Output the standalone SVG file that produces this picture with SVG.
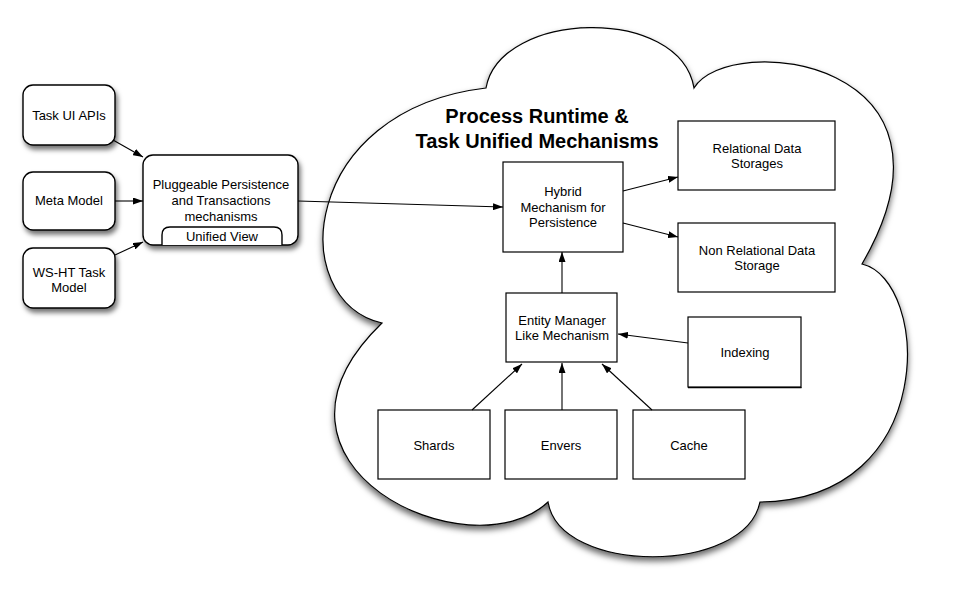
<svg xmlns="http://www.w3.org/2000/svg" width="961" height="597" viewBox="0 0 961 597">
<style>
  text { font-family: "Liberation Sans", Arial, sans-serif; font-size: 13px; fill: #000; text-anchor: middle; }
  .title { font-size: 20px; font-weight: bold; }
  .rbox { fill: #fff; stroke: #000; stroke-width: 1.4; }
  .box { fill: #fff; stroke: #000; stroke-width: 1.2; }
  .conn line, .conn path { stroke: #000; stroke-width: 1.1; fill: none; marker-end: url(#arrow); }
</style>
<defs>
  <marker id="arrow" viewBox="0 0 10 7" refX="10" refY="3.5" markerUnits="userSpaceOnUse" markerWidth="10" markerHeight="7" orient="auto">
    <path d="M0,0 L10,3.5 L0,7 z" fill="#000"/>
  </marker>
  <filter id="shadow" x="-20%" y="-20%" width="140%" height="150%">
    <feDropShadow dx="2" dy="4" stdDeviation="2.5" flood-color="#000" flood-opacity="0.55"/>
  </filter>
  <filter id="cshadow" x="-10%" y="-10%" width="120%" height="125%">
    <feDropShadow dx="0" dy="4" stdDeviation="3" flood-color="#000" flood-opacity="0.6"/>
  </filter>
</defs>
<rect width="961" height="597" fill="#fff"/>

<g id="cloud">
  <path filter="url(#cshadow)" fill="#fff" stroke="#000" stroke-width="1.2"
    d="M382,323 C285,300 300,110 486,88 C500,10 680,5 694,88 C730,30 980,60 862,264 C930,280 940,500 760,502 C745,575 560,575 548,502 C470,575 235,465 382,323 Z"/>
  <text class="title" x="537" y="123">Process Runtime &amp;</text>
  <text class="title" x="537" y="148">Task Unified Mechanisms</text>
</g>

<g id="task-ui-apis">
  <rect class="rbox" filter="url(#shadow)" x="23" y="85" width="92" height="60" rx="10"/>
  <text x="69" y="120">Task UI APIs</text>
</g>
<g id="meta-model">
  <rect class="rbox" filter="url(#shadow)" x="23" y="172" width="92" height="58" rx="10"/>
  <text x="69" y="205">Meta Model</text>
</g>
<g id="ws-ht-task-model">
  <rect class="rbox" filter="url(#shadow)" x="23" y="248" width="92" height="60" rx="10"/>
  <text x="69" y="277">WS-HT Task</text>
  <text x="69" y="292">Model</text>
</g>
<g id="pluggeable">
  <rect class="rbox" filter="url(#shadow)" x="143" y="155" width="155" height="90" rx="10"/>
  <text x="221" y="189">Pluggeable Persistence</text>
  <text x="221" y="205">and Transactions</text>
  <text x="221" y="221">mechanisms</text>
  <path class="rbox" d="M162,245 L162,235 Q162,227 170,227 L274,227 Q282,227 282,235 L282,245"/>
  <text x="222" y="241">Unified View</text>
</g>

<g id="hybrid">
  <rect class="box" x="503" y="162" width="120" height="90"/>
  <text x="563" y="196">Hybrid</text>
  <text x="563" y="212">Mechanism for</text>
  <text x="563" y="227">Persistence</text>
</g>
<g id="relational">
  <rect class="box" x="678" y="121" width="157" height="69"/>
  <text x="757" y="153">Relational Data</text>
  <text x="757" y="168">Storages</text>
</g>
<g id="non-relational">
  <rect class="box" x="678" y="223" width="157" height="69"/>
  <text x="757" y="255">Non Relational Data</text>
  <text x="757" y="270">Storage</text>
</g>
<g id="entity-manager">
  <rect class="box" x="506" y="293" width="111" height="69"/>
  <text x="562" y="325">Entity Manager</text>
  <text x="562" y="340">Like Mechanism</text>
</g>
<g id="indexing">
  <rect class="box" x="688" y="317" width="113" height="70"/>
  <line x1="688" y1="387.6" x2="801.6" y2="387.6" stroke="#000" stroke-width="1.4"/>
  <text x="745" y="357">Indexing</text>
</g>
<g id="shards">
  <rect class="box" x="378" y="410" width="112" height="69"/>
  <text x="434" y="450">Shards</text>
</g>
<g id="envers">
  <rect class="box" x="505" y="410" width="112" height="69"/>
  <text x="561" y="450">Envers</text>
</g>
<g id="cache">
  <rect class="box" x="633" y="410" width="112" height="69"/>
  <text x="689" y="450">Cache</text>
</g>

<g id="connectors" class="conn">
  <line x1="113" y1="140" x2="143" y2="157"/>
  <line x1="115" y1="201" x2="143" y2="201"/>
  <line x1="115" y1="255" x2="143" y2="242"/>
  <line x1="298" y1="201" x2="503" y2="207"/>
  <line x1="623" y1="191" x2="678" y2="177"/>
  <line x1="623" y1="223" x2="678" y2="237"/>
  <line x1="562" y1="293" x2="562" y2="252"/>
  <line x1="688" y1="343" x2="618" y2="334"/>
  <line x1="472" y1="410" x2="522" y2="364"/>
  <line x1="562" y1="410" x2="562" y2="363"/>
  <line x1="652" y1="410" x2="602" y2="364"/>
</g>
</svg>
